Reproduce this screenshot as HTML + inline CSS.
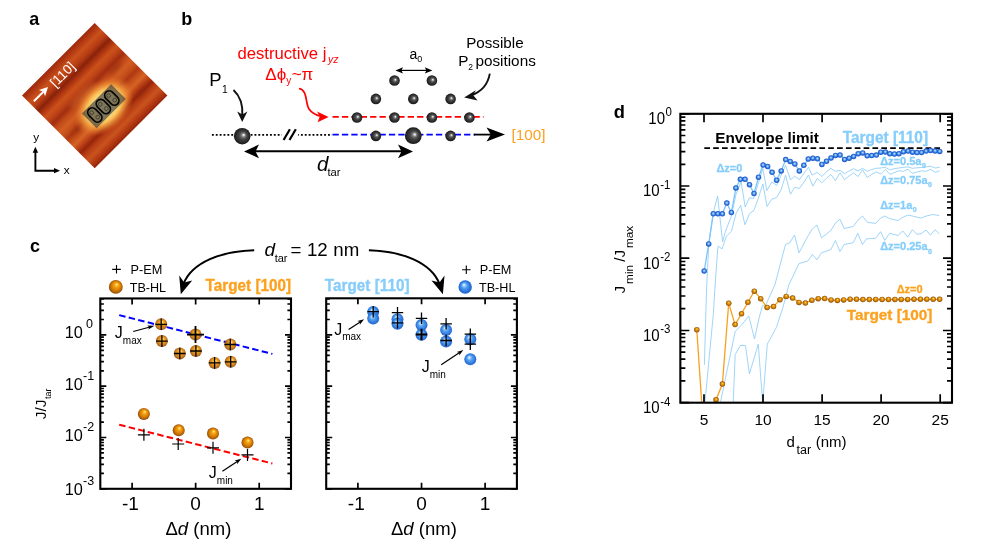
<!DOCTYPE html>
<html><head><meta charset="utf-8"><title>Figure</title>
<style>
html,body{margin:0;padding:0;background:#fff;}
body{width:981px;height:545px;overflow:hidden;font-family:"Liberation Sans",sans-serif;}
svg{display:block;will-change:transform;}
svg text{font-family:"Liberation Sans",sans-serif;}
</style></head><body>
<svg width="981" height="545" viewBox="0 0 981 545">
<rect width="981" height="545" fill="#fff"/>

<defs>
<radialGradient id="gs" cx="0.5" cy="0.5" r="0.52" fx="0.60" fy="0.42">
  <stop offset="0" stop-color="#ffffff"/><stop offset="0.08" stop-color="#dedede"/><stop offset="0.22" stop-color="#808080"/><stop offset="0.45" stop-color="#464646"/><stop offset="0.75" stop-color="#2b2b2b"/><stop offset="1" stop-color="#141414"/>
</radialGradient>
<radialGradient id="os" cx="0.5" cy="0.5" r="0.52" fx="0.58" fy="0.30">
  <stop offset="0" stop-color="#fff3a8"/><stop offset="0.12" stop-color="#fdd04a"/><stop offset="0.32" stop-color="#f3a010"/><stop offset="0.6" stop-color="#dc8206"/><stop offset="0.85" stop-color="#b06006"/><stop offset="1" stop-color="#7a3e04"/>
</radialGradient>
<radialGradient id="bs" cx="0.5" cy="0.5" r="0.52" fx="0.40" fy="0.32">
  <stop offset="0" stop-color="#eef8ff"/><stop offset="0.14" stop-color="#b4dbfc"/><stop offset="0.38" stop-color="#56a2f0"/><stop offset="0.7" stop-color="#2b7be2"/><stop offset="1" stop-color="#1c5cc6"/>
</radialGradient>
<radialGradient id="bd" cx="0.5" cy="0.5" r="0.5" fx="0.50" fy="0.42">
  <stop offset="0" stop-color="#c8e4ff"/><stop offset="0.3" stop-color="#80b9f3"/><stop offset="0.62" stop-color="#3278de"/><stop offset="1" stop-color="#1550c4"/>
</radialGradient>
<radialGradient id="od" cx="0.5" cy="0.5" r="0.5" fx="0.54" fy="0.34">
  <stop offset="0" stop-color="#ffe680"/><stop offset="0.22" stop-color="#f4b024"/><stop offset="0.55" stop-color="#d4860a"/><stop offset="0.85" stop-color="#a86206"/><stop offset="1" stop-color="#804404"/>
</radialGradient>
<radialGradient id="glow" cx="0.5" cy="0.5" r="0.5">
  <stop offset="0" stop-color="#ffeb9c" stop-opacity="1"/><stop offset="0.42" stop-color="#ffe086" stop-opacity="1"/><stop offset="0.6" stop-color="#fdc458" stop-opacity="0.95"/><stop offset="0.76" stop-color="#f29a3c" stop-opacity="0.7"/><stop offset="0.9" stop-color="#e47a2c" stop-opacity="0.3"/><stop offset="1" stop-color="#dc6a26" stop-opacity="0"/>
</radialGradient>
<linearGradient id="stripes" x1="0" y1="0" x2="0" y2="1">
  <stop offset="0.0" stop-color="#9c290d"/>
  <stop offset="0.04" stop-color="#af3611"/>
  <stop offset="0.1" stop-color="#ca511c"/>
  <stop offset="0.16" stop-color="#b73d14"/>
  <stop offset="0.215" stop-color="#8a220a"/>
  <stop offset="0.265" stop-color="#b33912"/>
  <stop offset="0.31" stop-color="#cc521c"/>
  <stop offset="0.36" stop-color="#bb4216"/>
  <stop offset="0.405" stop-color="#a12e11"/>
  <stop offset="0.45" stop-color="#bf4817"/>
  <stop offset="0.51" stop-color="#d25d23"/>
  <stop offset="0.57" stop-color="#c34d19"/>
  <stop offset="0.61" stop-color="#af3912"/>
  <stop offset="0.65" stop-color="#c34d19"/>
  <stop offset="0.7" stop-color="#d66325"/>
  <stop offset="0.75" stop-color="#bb4216"/>
  <stop offset="0.795" stop-color="#96250b"/>
  <stop offset="0.84" stop-color="#b73d14"/>
  <stop offset="0.9" stop-color="#ca541e"/>
  <stop offset="0.95" stop-color="#b33912"/>
  <stop offset="1.0" stop-color="#96250b"/>
</linearGradient>
<clipPath id="clipd"><rect x="680.35" y="113.8" width="271.6" height="288.9"/></clipPath>
<filter id="blur1" x="-20%" y="-20%" width="140%" height="140%"><feGaussianBlur stdDeviation="2.2"/></filter>
</defs>
<g transform="translate(29.3,25.4) scale(1.0,1.03)"><text x="0" y="0" font-size="18" fill="#000" font-weight="bold">a</text></g>
<g transform="translate(94.7,95.6) rotate(-45)">
<rect x="-51.4" y="-51.4" width="102.8" height="102.8" fill="url(#stripes)"/>
<g filter="url(#blur1)" opacity="0.5">
<ellipse cx="34" cy="-5" rx="9" ry="3" fill="#8e260c"/>
<ellipse cx="-34" cy="11" rx="10" ry="3" fill="#8e260c"/>
<ellipse cx="36" cy="30" rx="9" ry="3" fill="#8e260c"/>
<ellipse cx="-8" cy="-9" rx="18" ry="3" fill="#e07a30"/>
</g>
<ellipse cx="-1.2" cy="14" rx="35" ry="24" fill="url(#glow)"/>
<rect x="-21.8" y="3.6" width="41.4" height="20.9" fill="#3c3e3c" fill-opacity="0.66"/>
<rect x="-18.1" y="5.6" width="9" height="16.4" rx="4.5" fill="none" stroke="#050505" stroke-width="1.7"/>
<circle cx="-14.2" cy="10.0" r="1.9" fill="none" stroke="#262626" stroke-width="0.65"/>
<circle cx="-13.0" cy="17.4" r="1.9" fill="none" stroke="#262626" stroke-width="0.65"/>
<rect x="-6.1" y="5.6" width="9" height="16.4" rx="4.5" fill="none" stroke="#050505" stroke-width="1.7"/>
<circle cx="-2.2" cy="10.0" r="1.9" fill="none" stroke="#262626" stroke-width="0.65"/>
<circle cx="-1.0" cy="17.4" r="1.9" fill="none" stroke="#262626" stroke-width="0.65"/>
<rect x="5.9" y="5.6" width="9" height="16.4" rx="4.5" fill="none" stroke="#050505" stroke-width="1.7"/>
<circle cx="9.8" cy="10.0" r="1.9" fill="none" stroke="#262626" stroke-width="0.65"/>
<circle cx="11.0" cy="17.4" r="1.9" fill="none" stroke="#262626" stroke-width="0.65"/>
<line x1="-47" y1="-39" x2="-33" y2="-39" stroke="#fff" stroke-width="2"/>
<path d="M-27,-39 L-35.5,-43.3 L-33.5,-39 L-35.5,-34.7 Z" fill="#fff"/>
<text x="-22.3" y="-33.2" font-size="13.5" fill="#fff">[110]</text>
</g>
<path d="M35.4,151.5 V170.7 H55" fill="none" stroke="#000" stroke-width="1.9" stroke-linejoin="miter"/>
<path d="M35.4,146.8 L32.7,152.8 L38.1,152.8 Z" fill="#000"/>
<path d="M60.1,170.7 L54,168.1 L54,173.3 Z" fill="#000"/>
<text x="36.1" y="141.4" font-size="11.8" fill="#000" text-anchor="middle">y</text>
<text x="66.7" y="174.2" font-size="11.8" fill="#000" text-anchor="middle">x</text>
<g transform="translate(181.3,25.4) scale(1.0,1.03)"><text x="0" y="0" font-size="18" fill="#000" font-weight="bold">b</text></g>
<text x="237.4" y="59.2" font-size="16.7" fill="#ff0000">destructive j<tspan font-size="10.5" font-style="italic" dy="3.8" dx="1.6">yz</tspan></text>
<text x="265.3" y="79.6" font-size="17" fill="#ff0000">Δϕ<tspan font-size="10" dy="4.5">y</tspan><tspan dy="-4.5" dx="0.5">~π</tspan></text>
<text x="209.2" y="85.6" font-size="18.5" fill="#000">P</text>
<text x="222.0" y="92.7" font-size="10.3" fill="#000">1</text>
<path d="M233.5,90 C240,96 243,106 242.3,116" fill="none" stroke="#111" stroke-width="1.9"/>
<path d="M242.2,122 L237.2,111.6 L242.3,114.4 L247.4,111.6 Z" fill="#111"/>
<line x1="211.9" y1="134.9" x2="332" y2="134.9" stroke="#000" stroke-width="1.8" stroke-dasharray="1.9,1.97"/>
<rect x="281.6" y="128" width="16.6" height="13" fill="#fff"/>
<line x1="283.6" y1="140" x2="289.9" y2="129.2" stroke="#000" stroke-width="2.2"/>
<line x1="289.5" y1="140" x2="295.8" y2="129.2" stroke="#000" stroke-width="2.2"/>
<line x1="332.5" y1="116.9" x2="483.5" y2="116.9" stroke="#ff0000" stroke-width="1.8" stroke-dasharray="6.3,3.1"/>
<line x1="332.5" y1="134.6" x2="475" y2="134.6" stroke="#0000ff" stroke-width="1.8" stroke-dasharray="6.3,3.1"/>
<line x1="474" y1="134.6" x2="492" y2="134.6" stroke="#000" stroke-width="1.8"/>
<path d="M505,134.6 L486.5,127.6 L490.8,134.6 L486.5,141.6 Z" fill="#000"/>
<path d="M299,88.5 C308,90 305,103 309,109 C312,113.5 317,115.5 322,116.5" fill="none" stroke="#ff0000" stroke-width="1.7"/>
<path d="M328.6,116.9 L317,111.4 L319.8,116.6 L317.6,122.2 Z" fill="#ff0000"/>
<circle cx="394.5" cy="80.5" r="5.3" fill="url(#gs)"/>
<circle cx="431.9" cy="80.5" r="5.3" fill="url(#gs)"/>
<circle cx="375.9" cy="98.9" r="5.3" fill="url(#gs)"/>
<circle cx="413.3" cy="98.9" r="5.3" fill="url(#gs)"/>
<circle cx="450.6" cy="98.9" r="5.3" fill="url(#gs)"/>
<circle cx="357" cy="117.5" r="5.3" fill="url(#gs)"/>
<circle cx="394.5" cy="117.5" r="5.3" fill="url(#gs)"/>
<circle cx="431.9" cy="117.5" r="5.3" fill="url(#gs)"/>
<circle cx="469.4" cy="117.5" r="5.3" fill="url(#gs)"/>
<circle cx="375.9" cy="135.9" r="5.3" fill="url(#gs)"/>
<circle cx="450.6" cy="135.9" r="5.3" fill="url(#gs)"/>
<circle cx="413.3" cy="135.7" r="8.4" fill="url(#gs)"/>
<circle cx="242.2" cy="136.2" r="8.3" fill="url(#gs)"/>
<line x1="399" y1="70.4" x2="429" y2="70.4" stroke="#000" stroke-width="1.2"/>
<path d="M395.4,70.4 L403,67.2 L401.4,70.4 L403,73.6 Z" fill="#000"/>
<path d="M432.4,70.4 L424.8,67.2 L426.4,70.4 L424.8,73.6 Z" fill="#000"/>
<text x="409.5" y="58.5" font-size="14" fill="#000">a<tspan font-size="9" dy="3.2">0</tspan></text>
<text x="466.2" y="47.6" font-size="15.3" fill="#000" textLength="57.4" lengthAdjust="spacingAndGlyphs">Possible</text>
<text x="458.2" y="65.6" font-size="15.3" fill="#000">P</text>
<text x="468.2" y="69.6" font-size="8.5" fill="#000">2</text>
<text x="475.4" y="65.6" font-size="15.3" fill="#000" textLength="60.4" lengthAdjust="spacingAndGlyphs">positions</text>
<path d="M489.8,73.7 C488,84 481,92 471,95.5" fill="none" stroke="#111" stroke-width="1.9"/>
<path d="M464.2,97.6 L475.8,90.2 L473.2,95.2 L477.6,100.4 Z" fill="#111"/>
<text x="511.6" y="139.9" font-size="15.3" fill="#fca11e">[100]</text>
<line x1="254" y1="151.3" x2="403" y2="151.3" stroke="#000" stroke-width="2.0"/>
<path d="M244,151.4 L259,144.6 L255.5,151.4 L259,158.2 Z" fill="#000"/>
<path d="M413,151.4 L398,144.6 L401.5,151.4 L398,158.2 Z" fill="#000"/>
<text x="317.0" y="171.0" font-size="20.5" fill="#000" font-style="italic">d</text>
<text x="327.4" y="176.4" font-size="11.2" fill="#000">tar</text>
<g transform="translate(30,251.6) scale(1.0,1.03)"><text x="0" y="0" font-size="18" fill="#000" font-weight="bold">c</text></g>
<text x="264.5" y="255.9" font-size="18" fill="#000"><tspan font-style="italic" font-size="19">d</tspan><tspan font-size="11" dy="6.2" dx="-0.4">tar</tspan><tspan dy="-6.2" dx="2.9" font-size="18.7" word-spacing="0.4">= 12 nm</tspan></text>
<path d="M254.2,250.2 C222,251 192,262 183.5,284" fill="none" stroke="#000" stroke-width="2.1"/>
<path d="M180.8,294.2 L179.2,275.5 L184.2,282.5 L192.2,280.5 Z" fill="#000"/>
<path d="M368.9,250.2 C401,251 431,262 439.5,284" fill="none" stroke="#000" stroke-width="2.1"/>
<path d="M442.9,294.2 L444.5,275.5 L439.5,282.5 L431.5,280.5 Z" fill="#000"/>
<g transform="translate(205.6,290.6) scale(1.0,1.085)"><text x="0" y="0" font-size="15.3" fill="#fca11e" font-weight="bold" stroke="#fca11e" stroke-width="0.3">Target [100]</text></g>
<g transform="translate(324.8,290.6) scale(1.0,1.085)"><text x="0" y="0" font-size="15.3" fill="#87cdfa" font-weight="bold" stroke="#87cdfa" stroke-width="0.3">Target [110]</text></g>
<path d="M112.2,269.4H120.8M116.5,265.1V273.6" stroke="#000" stroke-width="1.1" fill="none"/>
<text x="130.6" y="274" font-size="12.7" fill="#000">P-EM</text>
<circle cx="115.8" cy="286.9" r="6.9" fill="url(#os)" opacity="1"/>
<text x="129.7" y="291.8" font-size="12.6" fill="#000">TB-HL</text>
<path d="M462.1,269.7H470.6M466.3,265.4V273.9" stroke="#000" stroke-width="1.1" fill="none"/>
<text x="479.7" y="273.7" font-size="12.7" fill="#000">P-EM</text>
<circle cx="465.2" cy="287" r="6.7" fill="url(#bs)" opacity="1"/>
<text x="479.0" y="292.2" font-size="12.6" fill="#000">TB-HL</text>
<line x1="119.2" y1="315.1" x2="272.4" y2="353.9" stroke="#0000ff" stroke-width="2" stroke-dasharray="6.5,3.3"/>
<line x1="119.2" y1="424.7" x2="272.4" y2="463.5" stroke="#ff0000" stroke-width="2" stroke-dasharray="6.5,3.3"/>
<circle cx="161.2" cy="324.3" r="6.0" fill="url(#os)" opacity="0.9"/>
<circle cx="161.9" cy="341.1" r="6.0" fill="url(#os)" opacity="0.9"/>
<circle cx="179.8" cy="353.5" r="6.0" fill="url(#os)" opacity="0.9"/>
<circle cx="195.9" cy="351" r="6.0" fill="url(#os)" opacity="0.9"/>
<circle cx="195.5" cy="334.6" r="6.0" fill="url(#os)" opacity="0.9"/>
<circle cx="214.6" cy="362.9" r="6.0" fill="url(#os)" opacity="0.9"/>
<circle cx="230.3" cy="344.5" r="6.0" fill="url(#os)" opacity="0.9"/>
<circle cx="230.7" cy="361.8" r="6.0" fill="url(#os)" opacity="0.9"/>
<path d="M155.4,324.3H167.0M161.2,318.5V330.1" stroke="#000" stroke-width="1.3" fill="none"/>
<path d="M156.1,341.1H167.7M161.9,335.3V346.9" stroke="#000" stroke-width="1.3" fill="none"/>
<path d="M174.0,353.5H185.6M179.8,347.7V359.3" stroke="#000" stroke-width="1.3" fill="none"/>
<path d="M190.1,351.0H201.7M195.9,345.2V356.8" stroke="#000" stroke-width="1.3" fill="none"/>
<path d="M187.0,334.6H204.0M195.5,326.1V343.1" stroke="#000" stroke-width="1.8" fill="none"/>
<path d="M208.8,362.9H220.4M214.6,357.1V368.7" stroke="#000" stroke-width="1.3" fill="none"/>
<path d="M224.5,344.5H236.1M230.3,338.7V350.3" stroke="#000" stroke-width="1.3" fill="none"/>
<path d="M224.9,361.8H236.5M230.7,356.0V367.6" stroke="#000" stroke-width="1.3" fill="none"/>
<circle cx="143.9" cy="413.9" r="6.0" fill="url(#os)" opacity="1"/>
<circle cx="178.7" cy="430.3" r="6.0" fill="url(#os)" opacity="1"/>
<circle cx="213" cy="433.6" r="6.0" fill="url(#os)" opacity="1"/>
<circle cx="247.5" cy="442.6" r="6.0" fill="url(#os)" opacity="1"/>
<path d="M137.9,434.8H149.9M143.9,428.8V440.8" stroke="#000" stroke-width="1.2" fill="none"/>
<path d="M172.2,444.0H184.2M178.2,438.0V450.0" stroke="#000" stroke-width="1.2" fill="none"/>
<path d="M207.0,447.8H219.0M213.0,441.8V453.8" stroke="#000" stroke-width="1.2" fill="none"/>
<path d="M241.5,454.9H253.5M247.5,448.9V460.9" stroke="#000" stroke-width="1.2" fill="none"/>
<text x="114.8" y="337.5" font-size="16" fill="#000">J<tspan font-size="10" dy="6.3">max</tspan></text>
<line x1="133.2" y1="331.5" x2="150" y2="327" stroke="#000" stroke-width="1.25"/>
<path d="M154.5,325.8 L147.3,325.6 L149.2,327.2 L148.4,329.6 Z" fill="#000"/>
<text x="208.8" y="478.0" font-size="16" fill="#000">J<tspan font-size="10" dy="6">min</tspan></text>
<line x1="222.4" y1="471.3" x2="238" y2="461" stroke="#000" stroke-width="1.25"/>
<path d="M241.3,458.8 L234.6,460.6 L237.2,461.5 L237,464.2 Z" fill="#000"/>
<path d="M100.3,488.8h6M291.0,488.8h-6M100.3,473.4h3.6M291.0,473.4h-3.6M100.3,464.3h3.6M291.0,464.3h-3.6M100.3,457.9h3.6M291.0,457.9h-3.6M100.3,452.9h3.6M291.0,452.9h-3.6M100.3,448.9h3.6M291.0,448.9h-3.6M100.3,445.4h3.6M291.0,445.4h-3.6M100.3,442.5h3.6M291.0,442.5h-3.6M100.3,439.8h3.6M291.0,439.8h-3.6M100.3,437.5h6M291.0,437.5h-6M100.3,422.1h3.6M291.0,422.1h-3.6M100.3,413.0h3.6M291.0,413.0h-3.6M100.3,406.6h3.6M291.0,406.6h-3.6M100.3,401.6h3.6M291.0,401.6h-3.6M100.3,397.6h3.6M291.0,397.6h-3.6M100.3,394.1h3.6M291.0,394.1h-3.6M100.3,391.2h3.6M291.0,391.2h-3.6M100.3,388.5h3.6M291.0,388.5h-3.6M100.3,386.2h6M291.0,386.2h-6M100.3,370.8h3.6M291.0,370.8h-3.6M100.3,361.7h3.6M291.0,361.7h-3.6M100.3,355.3h3.6M291.0,355.3h-3.6M100.3,350.3h3.6M291.0,350.3h-3.6M100.3,346.3h3.6M291.0,346.3h-3.6M100.3,342.8h3.6M291.0,342.8h-3.6M100.3,339.9h3.6M291.0,339.9h-3.6M100.3,337.2h3.6M291.0,337.2h-3.6M100.3,334.9h6M291.0,334.9h-6M100.3,319.5h3.6M291.0,319.5h-3.6M100.3,310.4h3.6M291.0,310.4h-3.6M100.3,304.0h3.6M291.0,304.0h-3.6M100.3,299.0h3.6M291.0,299.0h-3.6" stroke="#000" stroke-width="1.7" fill="none"/>
<path d="M132.1,298.45v6M132.1,488.8v-6M195.65,298.45v6M195.65,488.8v-6M259.2,298.45v6M259.2,488.8v-6" stroke="#000" stroke-width="1.7" fill="none"/>
<rect x="100.3" y="298.45" width="190.7" height="190.35000000000002" fill="none" stroke="#000" stroke-width="2.1"/>
<g transform="translate(82.9,337.7) scale(1,1.0)"><text x="0" y="0" font-size="16.3" text-anchor="end">10</text></g><g transform="translate(86.10000000000001,327.8) scale(1,1.0)"><text x="0" y="0" font-size="12.5">0</text></g>
<g transform="translate(82.9,390.2) scale(1,1.0)"><text x="0" y="0" font-size="16.3" text-anchor="end">10</text></g><g transform="translate(83.10000000000001,380.3) scale(1,1.0)"><text x="0" y="0" font-size="12.5">-1</text></g>
<g transform="translate(82.9,441.3) scale(1,1.0)"><text x="0" y="0" font-size="16.3" text-anchor="end">10</text></g><g transform="translate(83.10000000000001,431.40000000000003) scale(1,1.0)"><text x="0" y="0" font-size="12.5">-2</text></g>
<g transform="translate(82.9,494.7) scale(1,1.0)"><text x="0" y="0" font-size="16.3" text-anchor="end">10</text></g><g transform="translate(83.10000000000001,484.8) scale(1,1.0)"><text x="0" y="0" font-size="12.5">-3</text></g>
<text x="130.5" y="510.3" font-size="19" fill="#000" text-anchor="middle">-1</text>
<text x="195.65" y="510.3" font-size="19" fill="#000" text-anchor="middle">0</text>
<text x="259.2" y="510.3" font-size="19" fill="#000" text-anchor="middle">1</text>
<text x="198.4" y="534.6" font-size="18.5" fill="#000" text-anchor="middle">Δ<tspan font-style="italic">d</tspan> (nm)</text>
<text transform="translate(45.9,419.2) rotate(-90)" font-size="15.5">J/J<tspan font-size="9" dy="5.5" dx="0.5">tar</tspan></text>
<circle cx="373.2" cy="312.0" r="6.0" fill="url(#bs)" opacity="0.95"/>
<circle cx="373.2" cy="318.4" r="6.0" fill="url(#bs)" opacity="0.95"/>
<circle cx="397.5" cy="319.2" r="6.0" fill="url(#bs)" opacity="0.95"/>
<circle cx="397.5" cy="323.7" r="6.0" fill="url(#bs)" opacity="0.95"/>
<circle cx="421.5" cy="325.1" r="6.0" fill="url(#bs)" opacity="0.95"/>
<circle cx="421.5" cy="334.8" r="6.0" fill="url(#bs)" opacity="0.95"/>
<circle cx="446.1" cy="330.0" r="6.0" fill="url(#bs)" opacity="0.95"/>
<circle cx="446.1" cy="341.6" r="6.0" fill="url(#bs)" opacity="0.95"/>
<circle cx="470.3" cy="339.3" r="6.0" fill="url(#bs)" opacity="0.95"/>
<circle cx="470.3" cy="359.3" r="6.0" fill="url(#bs)" opacity="0.95"/>
<path d="M367.4,311.6H378.9M373.2,305.9V317.4" stroke="#000" stroke-width="1.3" fill="none"/>
<path d="M391.8,312.7H403.2M397.5,306.9V318.4" stroke="#000" stroke-width="1.3" fill="none"/>
<path d="M391.8,322.9H403.2M397.5,317.1V328.6" stroke="#000" stroke-width="1.3" fill="none"/>
<path d="M415.8,318.3H427.2M421.5,312.6V324.1" stroke="#000" stroke-width="1.3" fill="none"/>
<path d="M415.8,334.5H427.2M421.5,328.8V340.2" stroke="#000" stroke-width="2.0" fill="none"/>
<path d="M440.4,323.8H451.9M446.1,318.1V329.6" stroke="#000" stroke-width="1.3" fill="none"/>
<path d="M440.4,340.5H451.9M446.1,334.8V346.2" stroke="#000" stroke-width="1.3" fill="none"/>
<path d="M464.6,334.1H476.1M470.3,328.4V339.9" stroke="#000" stroke-width="1.3" fill="none"/>
<path d="M464.6,344.2H476.1M470.3,338.4V349.9" stroke="#000" stroke-width="1.3" fill="none"/>
<text x="334.2" y="335.2" font-size="16" fill="#000">J<tspan font-size="10" dy="5.2">max</tspan></text>
<line x1="348.6" y1="329.6" x2="361" y2="321.4" stroke="#000" stroke-width="1.25"/>
<path d="M364.1,319.3 L357.4,321.1 L360,322 L359.8,324.7 Z" fill="#000"/>
<text x="421.7" y="372.2" font-size="16" fill="#000">J<tspan font-size="10" dy="6">min</tspan></text>
<line x1="441.2" y1="364.8" x2="460" y2="352.3" stroke="#000" stroke-width="1.25"/>
<path d="M463.4,350.1 L456.7,351.9 L459.3,352.8 L459.1,355.5 Z" fill="#000"/>
<path d="M326.2,488.8h6M516.9,488.8h-6M326.2,473.4h3.6M516.9,473.4h-3.6M326.2,464.3h3.6M516.9,464.3h-3.6M326.2,457.9h3.6M516.9,457.9h-3.6M326.2,452.9h3.6M516.9,452.9h-3.6M326.2,448.9h3.6M516.9,448.9h-3.6M326.2,445.4h3.6M516.9,445.4h-3.6M326.2,442.5h3.6M516.9,442.5h-3.6M326.2,439.8h3.6M516.9,439.8h-3.6M326.2,437.5h6M516.9,437.5h-6M326.2,422.1h3.6M516.9,422.1h-3.6M326.2,413.0h3.6M516.9,413.0h-3.6M326.2,406.6h3.6M516.9,406.6h-3.6M326.2,401.6h3.6M516.9,401.6h-3.6M326.2,397.6h3.6M516.9,397.6h-3.6M326.2,394.1h3.6M516.9,394.1h-3.6M326.2,391.2h3.6M516.9,391.2h-3.6M326.2,388.5h3.6M516.9,388.5h-3.6M326.2,386.2h6M516.9,386.2h-6M326.2,370.8h3.6M516.9,370.8h-3.6M326.2,361.7h3.6M516.9,361.7h-3.6M326.2,355.3h3.6M516.9,355.3h-3.6M326.2,350.3h3.6M516.9,350.3h-3.6M326.2,346.3h3.6M516.9,346.3h-3.6M326.2,342.8h3.6M516.9,342.8h-3.6M326.2,339.9h3.6M516.9,339.9h-3.6M326.2,337.2h3.6M516.9,337.2h-3.6M326.2,334.9h6M516.9,334.9h-6M326.2,319.5h3.6M516.9,319.5h-3.6M326.2,310.4h3.6M516.9,310.4h-3.6M326.2,304.0h3.6M516.9,304.0h-3.6M326.2,299.0h3.6M516.9,299.0h-3.6" stroke="#000" stroke-width="1.7" fill="none"/>
<path d="M357.9,298.3v6M357.9,488.8v-6M421.55,298.3v6M421.55,488.8v-6M485.1,298.3v6M485.1,488.8v-6" stroke="#000" stroke-width="1.7" fill="none"/>
<rect x="326.2" y="298.3" width="190.7" height="190.5" fill="none" stroke="#000" stroke-width="2.1"/>
<text x="356.29999999999995" y="510.3" font-size="19" fill="#000" text-anchor="middle">-1</text>
<text x="421.55" y="510.3" font-size="19" fill="#000" text-anchor="middle">0</text>
<text x="485.1" y="510.3" font-size="19" fill="#000" text-anchor="middle">1</text>
<text x="423.9" y="534.6" font-size="18.5" fill="#000" text-anchor="middle">Δ<tspan font-style="italic">d</tspan> (nm)</text>
<g transform="translate(613.8,117.8) scale(1.0,1.03)"><text x="0" y="0" font-size="18.3" fill="#000" font-weight="bold">d</text></g>
<g clip-path="url(#clipd)">
<polyline points="704.4,365.0 706.5,290.0 708.8,244.0 713.0,214.0 717.6,196.1 722.6,241.7 725.3,231.8 731.4,215.9 735.8,195.0 741.1,181.9 745.2,207.0 749.4,197.8 753.6,198.5 758.4,183.0 762.9,168.5 766.8,190.6 771.9,181.9 776.6,185.5 781.2,175.0 785.6,165.4 790.4,179.8 794.6,176.2 799.5,179.6 804.0,173.0 808.5,167.2 812.1,175.0 817.2,172.4 821.9,176.5 826.3,172.0 830.8,168.3 835.2,171.3 840.1,170.3 844.5,173.9 849.0,171.0 853.5,168.8 858.0,170.8 862.6,168.3 867.1,171.3 871.6,169.5 876.1,168.3 880.9,168.0 885.4,167.2 889.5,169.8 894.0,168.8 898.8,168.0 903.4,167.3 908.0,166.9 912.3,168.3 917.0,167.8 921.4,167.5 926.0,166.8 930.6,166.2 935.3,168.0 939.7,167.2" fill="none" stroke="#86caf8" stroke-width="0.8" stroke-linejoin="miter"/>
<polyline points="704.9,403.0 713.4,313.4 714.8,290.0 717.6,250.0 718.2,246.1 722.0,248.9 726.4,236.2 731.4,231.3 736.3,212.6 740.7,205.4 744.9,224.7 749.5,213.7 753.9,210.4 758.4,198.0 762.9,183.9 767.1,206.5 771.5,199.4 776.6,197.5 781.0,190.0 785.6,175.2 790.4,194.2 794.6,187.5 799.5,188.3 804.0,182.0 808.5,175.0 812.8,186.2 817.3,178.5 821.9,182.7 826.3,178.5 830.8,174.4 835.3,180.6 840.1,172.9 844.5,179.6 849.0,176.0 853.5,172.9 858.0,176.5 862.6,169.8 867.1,177.5 871.6,174.5 876.1,171.9 880.9,173.9 885.4,169.3 890.0,174.4 894.4,172.5 898.8,170.8 903.4,171.3 908.0,169.3 912.3,173.4 917.0,172.0 921.4,170.8 926.0,171.3 930.6,169.3 935.3,172.4 939.7,170.8" fill="none" stroke="#86caf8" stroke-width="0.8" stroke-linejoin="miter"/>
<polyline points="720.3,403.0 735.2,331.4 741.6,325.0 748.8,316.0 754.5,339.0 758.6,320.0 762.5,305.4 765.7,305.2 774.8,285.0 785.5,244.5 789.6,242.9 794.6,235.1 799.0,252.8 807.8,236.3 812.4,228.9 816.9,225.1 821.5,237.9 830.9,230.5 835.4,223.1 840.0,219.3 844.1,228.5 850.0,227.2 853.3,226.4 858.3,219.8 862.4,216.0 867.3,222.3 875.6,223.4 880.6,218.1 884.7,216.0 889.6,218.6 897.9,220.6 902.8,217.3 907.8,215.1 912.8,216.1 921.0,218.1 926.0,216.1 932.6,214.5 939.2,215.5" fill="none" stroke="#86caf8" stroke-width="0.8" stroke-linejoin="miter"/>
<polyline points="733.2,403.0 735.2,354.5 740.4,345.5 745.5,345.5 749.4,373.8 758.3,344.2 762.7,403.0 767.3,344.2 776.3,327.5 782.7,308.3 788.8,285.0 799.0,263.5 807.8,261.1 812.4,254.5 816.9,259.9 821.5,252.8 830.9,249.5 835.4,240.4 840.0,251.5 844.1,244.5 850.0,243.4 853.3,242.6 857.8,233.3 862.4,244.5 866.5,238.8 875.6,238.3 880.6,231.7 884.7,240.4 889.6,233.3 897.9,235.5 902.8,231.0 907.8,237.1 912.4,229.7 916.9,234.3 921.0,233.8 926.0,230.0 930.4,235.1 935.0,229.7 939.2,233.8" fill="none" stroke="#86caf8" stroke-width="0.8" stroke-linejoin="miter"/>
<polyline points="704.2,271.0 708.7,243.9 713.3,213.8 717.8,213.8 722.3,213.8 726.8,203.1 731.4,212.5 735.9,188.0 740.4,179.3 745.0,179.3 749.5,184.7 754.0,193.5 758.5,177.2 763.1,165.1 767.6,166.5 772.1,172.3 776.6,180.2 781.2,170.9 785.7,159.6 790.2,161.4 794.8,164.0 799.3,171.0 803.8,165.3 808.3,159.0 812.9,158.2 817.4,158.8 821.9,164.4 826.5,161.2 831.0,158.0 835.5,155.4 840.0,155.0 844.6,159.4 849.1,158.2 853.6,156.4 858.2,153.7 862.7,152.9 867.2,155.8 871.7,155.6 876.3,155.1 880.8,152.2 885.3,152.0 889.8,153.8 894.4,154.0 898.9,153.7 903.4,151.7 908.0,151.0 912.5,152.2 917.0,152.6 921.5,152.5 926.1,151.1 930.6,150.5 935.1,151.0 939.7,151.4" fill="none" stroke="#7cc4fa" stroke-width="1.3"/>
<polyline points="696.8,329.7 702.2,410.0" fill="none" stroke="#f9a11e" stroke-width="1.3"/>
<polyline points="713.2,410.0 716.0,399.8 722.4,384.1 728.7,303.3 735.1,324.6 741.5,313.8 747.9,302.3 754.3,291.2 760.7,298.7 767.1,307.5 773.5,306.6 779.9,299.7 786.2,296.4 792.6,298.1 799.0,302.4 805.4,303.1 811.8,300.2 818.2,298.7 824.6,298.6 831.0,299.9 837.4,300.5 843.7,299.9 850.1,299.3 856.5,299.3 862.9,299.6 869.3,299.6 875.7,299.5 882.1,299.5 888.5,299.5 894.9,299.5 901.2,299.5 907.6,299.5 914.0,299.3 920.4,299.3 926.8,299.3 933.2,299.3 939.6,299.3" fill="none" stroke="#f9a11e" stroke-width="1.3"/>
</g>
<line x1="704.3" y1="148.1" x2="940" y2="148.1" stroke="#000" stroke-width="1.8" stroke-dasharray="5.7,3.15"/>
<circle cx="704.2" cy="271.0" r="2.75" fill="url(#bd)"/>
<circle cx="708.7" cy="243.9" r="2.75" fill="url(#bd)"/>
<circle cx="713.3" cy="213.8" r="2.75" fill="url(#bd)"/>
<circle cx="717.8" cy="213.8" r="2.75" fill="url(#bd)"/>
<circle cx="722.3" cy="213.8" r="2.75" fill="url(#bd)"/>
<circle cx="726.8" cy="203.1" r="2.75" fill="url(#bd)"/>
<circle cx="731.4" cy="212.5" r="2.75" fill="url(#bd)"/>
<circle cx="735.9" cy="188.0" r="2.75" fill="url(#bd)"/>
<circle cx="740.4" cy="179.3" r="2.75" fill="url(#bd)"/>
<circle cx="745.0" cy="179.3" r="2.75" fill="url(#bd)"/>
<circle cx="749.5" cy="184.7" r="2.75" fill="url(#bd)"/>
<circle cx="754.0" cy="193.5" r="2.75" fill="url(#bd)"/>
<circle cx="758.5" cy="177.2" r="2.75" fill="url(#bd)"/>
<circle cx="763.1" cy="165.1" r="2.75" fill="url(#bd)"/>
<circle cx="767.6" cy="166.5" r="2.75" fill="url(#bd)"/>
<circle cx="772.1" cy="172.3" r="2.75" fill="url(#bd)"/>
<circle cx="776.6" cy="180.2" r="2.75" fill="url(#bd)"/>
<circle cx="781.2" cy="170.9" r="2.75" fill="url(#bd)"/>
<circle cx="785.7" cy="159.6" r="2.75" fill="url(#bd)"/>
<circle cx="790.2" cy="161.4" r="2.75" fill="url(#bd)"/>
<circle cx="794.8" cy="164.0" r="2.75" fill="url(#bd)"/>
<circle cx="799.3" cy="171.0" r="2.75" fill="url(#bd)"/>
<circle cx="803.8" cy="165.3" r="2.75" fill="url(#bd)"/>
<circle cx="808.3" cy="159.0" r="2.75" fill="url(#bd)"/>
<circle cx="812.9" cy="158.2" r="2.75" fill="url(#bd)"/>
<circle cx="817.4" cy="158.8" r="2.75" fill="url(#bd)"/>
<circle cx="821.9" cy="164.4" r="2.75" fill="url(#bd)"/>
<circle cx="826.5" cy="161.2" r="2.75" fill="url(#bd)"/>
<circle cx="831.0" cy="158.0" r="2.75" fill="url(#bd)"/>
<circle cx="835.5" cy="155.4" r="2.75" fill="url(#bd)"/>
<circle cx="840.0" cy="155.0" r="2.75" fill="url(#bd)"/>
<circle cx="844.6" cy="159.4" r="2.75" fill="url(#bd)"/>
<circle cx="849.1" cy="158.2" r="2.75" fill="url(#bd)"/>
<circle cx="853.6" cy="156.4" r="2.75" fill="url(#bd)"/>
<circle cx="858.2" cy="153.7" r="2.75" fill="url(#bd)"/>
<circle cx="862.7" cy="152.9" r="2.75" fill="url(#bd)"/>
<circle cx="867.2" cy="155.8" r="2.75" fill="url(#bd)"/>
<circle cx="871.7" cy="155.6" r="2.75" fill="url(#bd)"/>
<circle cx="876.3" cy="155.1" r="2.75" fill="url(#bd)"/>
<circle cx="880.8" cy="152.2" r="2.75" fill="url(#bd)"/>
<circle cx="885.3" cy="152.0" r="2.75" fill="url(#bd)"/>
<circle cx="889.8" cy="153.8" r="2.75" fill="url(#bd)"/>
<circle cx="894.4" cy="154.0" r="2.75" fill="url(#bd)"/>
<circle cx="898.9" cy="153.7" r="2.75" fill="url(#bd)"/>
<circle cx="903.4" cy="151.7" r="2.75" fill="url(#bd)"/>
<circle cx="908.0" cy="151.0" r="2.75" fill="url(#bd)"/>
<circle cx="912.5" cy="152.2" r="2.75" fill="url(#bd)"/>
<circle cx="917.0" cy="152.6" r="2.75" fill="url(#bd)"/>
<circle cx="921.5" cy="152.5" r="2.75" fill="url(#bd)"/>
<circle cx="926.1" cy="151.1" r="2.75" fill="url(#bd)"/>
<circle cx="930.6" cy="150.5" r="2.75" fill="url(#bd)"/>
<circle cx="935.1" cy="151.0" r="2.75" fill="url(#bd)"/>
<circle cx="939.7" cy="151.4" r="2.75" fill="url(#bd)"/>
<circle cx="696.8" cy="329.7" r="2.75" fill="url(#od)"/>
<circle cx="716.0" cy="399.8" r="2.75" fill="url(#od)"/>
<circle cx="722.4" cy="384.1" r="2.75" fill="url(#od)"/>
<circle cx="728.7" cy="303.3" r="2.75" fill="url(#od)"/>
<circle cx="735.1" cy="324.6" r="2.75" fill="url(#od)"/>
<circle cx="741.5" cy="313.8" r="2.75" fill="url(#od)"/>
<circle cx="747.9" cy="302.3" r="2.75" fill="url(#od)"/>
<circle cx="754.3" cy="291.2" r="2.75" fill="url(#od)"/>
<circle cx="760.7" cy="298.7" r="2.75" fill="url(#od)"/>
<circle cx="767.1" cy="307.5" r="2.75" fill="url(#od)"/>
<circle cx="773.5" cy="306.6" r="2.75" fill="url(#od)"/>
<circle cx="779.9" cy="299.7" r="2.75" fill="url(#od)"/>
<circle cx="786.2" cy="296.4" r="2.75" fill="url(#od)"/>
<circle cx="792.6" cy="298.1" r="2.75" fill="url(#od)"/>
<circle cx="799.0" cy="302.4" r="2.75" fill="url(#od)"/>
<circle cx="805.4" cy="303.1" r="2.75" fill="url(#od)"/>
<circle cx="811.8" cy="300.2" r="2.75" fill="url(#od)"/>
<circle cx="818.2" cy="298.7" r="2.75" fill="url(#od)"/>
<circle cx="824.6" cy="298.6" r="2.75" fill="url(#od)"/>
<circle cx="831.0" cy="299.9" r="2.75" fill="url(#od)"/>
<circle cx="837.4" cy="300.5" r="2.75" fill="url(#od)"/>
<circle cx="843.7" cy="299.9" r="2.75" fill="url(#od)"/>
<circle cx="850.1" cy="299.3" r="2.75" fill="url(#od)"/>
<circle cx="856.5" cy="299.3" r="2.75" fill="url(#od)"/>
<circle cx="862.9" cy="299.6" r="2.75" fill="url(#od)"/>
<circle cx="869.3" cy="299.6" r="2.75" fill="url(#od)"/>
<circle cx="875.7" cy="299.5" r="2.75" fill="url(#od)"/>
<circle cx="882.1" cy="299.5" r="2.75" fill="url(#od)"/>
<circle cx="888.5" cy="299.5" r="2.75" fill="url(#od)"/>
<circle cx="894.9" cy="299.5" r="2.75" fill="url(#od)"/>
<circle cx="901.2" cy="299.5" r="2.75" fill="url(#od)"/>
<circle cx="907.6" cy="299.5" r="2.75" fill="url(#od)"/>
<circle cx="914.0" cy="299.3" r="2.75" fill="url(#od)"/>
<circle cx="920.4" cy="299.3" r="2.75" fill="url(#od)"/>
<circle cx="926.8" cy="299.3" r="2.75" fill="url(#od)"/>
<circle cx="933.2" cy="299.3" r="2.75" fill="url(#od)"/>
<circle cx="939.6" cy="299.3" r="2.75" fill="url(#od)"/>
<text x="715.2" y="143.3" font-size="15.3" fill="#000" font-weight="bold">Envelope limit</text>
<g transform="translate(842.8,143.4) scale(1.0,1.04)"><text x="0" y="0" font-size="15.4" fill="#87cdfa" font-weight="bold" stroke="#87cdfa" stroke-width="0.3">Target [110]</text></g>
<text x="716.4" y="172" font-size="11" fill="#87cdfa" font-weight="bold" stroke="#87cdfa" stroke-width="0.3">Δz=0</text>
<text x="880.2" y="164.7" font-size="11" fill="#87cdfa" font-weight="bold" stroke="#87cdfa" stroke-width="0.3">Δz=0.5a<tspan font-size="7" dy="3.6" dx="0.5">0</tspan></text>
<text x="880.2" y="183.7" font-size="11" fill="#87cdfa" font-weight="bold" stroke="#87cdfa" stroke-width="0.3">Δz=0.75a<tspan font-size="7" dy="3.6" dx="0.5">0</tspan></text>
<text x="880.2" y="208.5" font-size="11" fill="#87cdfa" font-weight="bold" stroke="#87cdfa" stroke-width="0.3">Δz=1a<tspan font-size="7" dy="3.6" dx="0.5">0</tspan></text>
<text x="880.2" y="250.3" font-size="11" fill="#87cdfa" font-weight="bold" stroke="#87cdfa" stroke-width="0.3">Δz=0.25a<tspan font-size="7" dy="3.6" dx="0.5">0</tspan></text>
<text x="896.7" y="292.7" font-size="11" fill="#fca11e" font-weight="bold" stroke="#fca11e" stroke-width="0.3">Δz=0</text>
<g transform="translate(846.8,319.5) scale(1.0,1.0)"><text x="0" y="0" font-size="15.3" fill="#fca11e" font-weight="bold" stroke="#fca11e" stroke-width="0.3">Target [100]</text></g>
<path d="M680.35,402.7h9M952.0,402.7h-9M680.35,380.9h5M952.0,380.9h-5M680.35,368.2h5M952.0,368.2h-5M680.35,359.2h5M952.0,359.2h-5M680.35,352.2h5M952.0,352.2h-5M680.35,346.5h5M952.0,346.5h-5M680.35,341.6h5M952.0,341.6h-5M680.35,337.5h5M952.0,337.5h-5M680.35,333.8h5M952.0,333.8h-5M680.35,330.5h9M952.0,330.5h-9M680.35,308.7h5M952.0,308.7h-5M680.35,296.0h5M952.0,296.0h-5M680.35,287.0h5M952.0,287.0h-5M680.35,280.0h5M952.0,280.0h-5M680.35,274.3h5M952.0,274.3h-5M680.35,269.4h5M952.0,269.4h-5M680.35,265.2h5M952.0,265.2h-5M680.35,261.5h5M952.0,261.5h-5M680.35,258.2h9M952.0,258.2h-9M680.35,236.5h5M952.0,236.5h-5M680.35,223.8h5M952.0,223.8h-5M680.35,214.8h5M952.0,214.8h-5M680.35,207.8h5M952.0,207.8h-5M680.35,202.0h5M952.0,202.0h-5M680.35,197.2h5M952.0,197.2h-5M680.35,193.0h5M952.0,193.0h-5M680.35,189.3h5M952.0,189.3h-5M680.35,186.0h9M952.0,186.0h-9M680.35,164.3h5M952.0,164.3h-5M680.35,151.6h5M952.0,151.6h-5M680.35,142.5h5M952.0,142.5h-5M680.35,135.5h5M952.0,135.5h-5M680.35,129.8h5M952.0,129.8h-5M680.35,125.0h5M952.0,125.0h-5M680.35,120.8h5M952.0,120.8h-5M680.35,117.1h5M952.0,117.1h-5M680.35,113.8h9M952.0,113.8h-9" stroke="#000" stroke-width="1.7" fill="none"/>
<path d="M704.0,113.8v8.5M704.0,402.7v-8.5M763.0,113.8v8.5M763.0,402.7v-8.5M822.1,113.8v8.5M822.1,402.7v-8.5M881.1,113.8v8.5M881.1,402.7v-8.5M940.2,113.8v8.5M940.2,402.7v-8.5" stroke="#000" stroke-width="1.7" fill="none"/>
<rect x="680.35" y="113.8" width="271.65" height="288.9" fill="none" stroke="#000" stroke-width="2.1"/>
<g transform="translate(665.0,123.6) scale(1,1.07)"><text x="0" y="0" font-size="15" text-anchor="end">10</text></g><g transform="translate(665.6,116.19999999999999) scale(1,1.07)"><text x="0" y="0" font-size="11.5">0</text></g>
<g transform="translate(659.6,196.32) scale(1,1.07)"><text x="0" y="0" font-size="15" text-anchor="end">10</text></g><g transform="translate(660.2,188.92) scale(1,1.07)"><text x="0" y="0" font-size="11.5">-1</text></g>
<g transform="translate(659.6,268.54) scale(1,1.07)"><text x="0" y="0" font-size="15" text-anchor="end">10</text></g><g transform="translate(660.2,261.14000000000004) scale(1,1.07)"><text x="0" y="0" font-size="11.5">-2</text></g>
<g transform="translate(659.6,340.76) scale(1,1.07)"><text x="0" y="0" font-size="15" text-anchor="end">10</text></g><g transform="translate(660.2,333.36) scale(1,1.07)"><text x="0" y="0" font-size="11.5">-3</text></g>
<g transform="translate(659.6,412.98) scale(1,1.07)"><text x="0" y="0" font-size="15" text-anchor="end">10</text></g><g transform="translate(660.2,405.58000000000004) scale(1,1.07)"><text x="0" y="0" font-size="11.5">-4</text></g>
<text x="704.0" y="425.3" font-size="15.5" fill="#000" text-anchor="middle">5</text>
<text x="763.0" y="425.3" font-size="15.5" fill="#000" text-anchor="middle">10</text>
<text x="822.1" y="425.3" font-size="15.5" fill="#000" text-anchor="middle">15</text>
<text x="881.1" y="425.3" font-size="15.5" fill="#000" text-anchor="middle">20</text>
<text x="940.2" y="425.3" font-size="15.5" fill="#000" text-anchor="middle">25</text>
<text x="786.6" y="447.1" font-size="15" fill="#000">d<tspan font-size="12.5" dy="7" dx="1.6">tar</tspan><tspan dy="-7" dx="4.6">(nm)</tspan></text>
<text transform="translate(624.8,293.4) rotate(-90)" font-size="15.3">J<tspan font-size="11.8" dy="8.3" dx="1.8">min</tspan><tspan dy="-8.3" dx="3.2">/J</tspan><tspan font-size="11.8" dy="8.3" dx="1.8">max</tspan></text>
</svg>
</body></html>
